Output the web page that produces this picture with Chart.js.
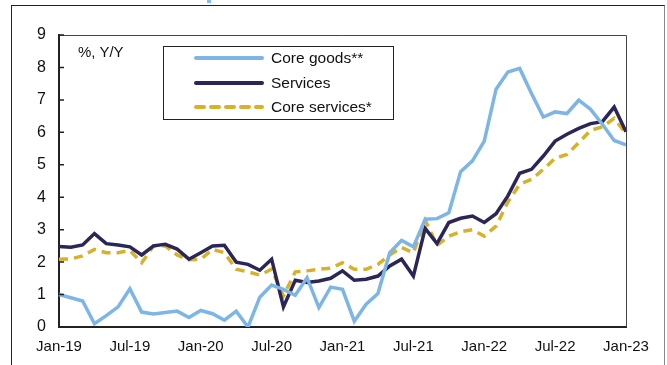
<!DOCTYPE html>
<html>
<head>
<meta charset="utf-8">
<script src="https://cdn.jsdelivr.net/npm/chart.js@4.4.1/dist/chart.umd.min.js"></script>
<style>
  html, body { margin: 0; padding: 0; background: #fff; overflow: hidden; }
  body { width: 667px; height: 365px; position: relative; font-family: "Liberation Sans", Arial, sans-serif; color: #111; }
  #wrap { position: absolute; left: 0; top: 0; width: 667px; height: 365px; }
  #frame { position: absolute; left: 11px; top: 5px; width: 652px; height: 420px; border: 1px solid #222; border-right-color: #888; }
  #titleBit { position: absolute; left: 207px; top: 0; width: 4px; height: 3px; background: #7cc4f0; }
  #unit { position: absolute; left: 78px; top: 43px; font-size: 15px; }
  #legend { position: absolute; left: 163px; top: 46px; width: 229px; height: 72px; border: 1px solid #222; background: #fff; }
  .row { position: absolute; left: 0; height: 20px; display: flex; align-items: center; font-size: 15.5px; }
  .row svg { margin-left: 30px; margin-right: 7px; }
</style>
</head>
<body>
<div id="frame"></div>
<div id="titleBit"></div>
<div id="wrap"><canvas id="chart" width="667" height="365"></canvas></div>
<div id="unit">%, Y/Y</div>
<div id="legend"></div>
<script>
const months = ["Jan", "Feb", "Mar", "Apr", "May", "Jun", "Jul", "Aug", "Sep", "Oct", "Nov", "Dec"];
const labels = [];
for (let year = 19; year <= 23; year++) {
  months.forEach((m) => labels.push(`${m}-${year}`));
}
labels.length = 49; // Jan-19 .. Jan-23

const coreGoods = [
  1.0, 0.9, 0.8, 0.1, 0.35, 0.62, 1.18, 0.46, 0.4, 0.45, 0.49, 0.29,
  0.51, 0.41, 0.21, 0.49, 0.0, 0.92, 1.29, 1.16, 0.98, 1.52, 0.6, 1.23,
  1.16, 0.18, 0.7, 1.03, 2.29, 2.67, 2.47, 3.32, 3.34, 3.52, 4.79, 5.12,
  5.73, 7.33, 7.86, 7.97, 7.2, 6.47, 6.63, 6.58, 6.99, 6.71, 6.25, 5.75,
  5.61,
];
const services = [
  2.48, 2.46, 2.53, 2.88, 2.57, 2.53, 2.47, 2.22, 2.5, 2.55, 2.4, 2.09,
  2.29, 2.5, 2.52, 2.0, 1.93, 1.75, 2.09, 0.62, 1.44, 1.37, 1.42, 1.5,
  1.73, 1.44, 1.47, 1.57, 1.88, 2.09, 1.57, 3.04, 2.57, 3.22, 3.35, 3.42,
  3.22, 3.49, 4.04, 4.74, 4.86, 5.27, 5.73, 5.94, 6.12, 6.27, 6.33, 6.78,
  6.02,
];
const coreServices = [
  2.09, 2.1, 2.19, 2.39, 2.29, 2.29, 2.36, 1.98, 2.5, 2.5, 2.22, 2.07,
  2.09, 2.39, 2.29, 1.78, 1.7, 1.6, 1.78, 0.96, 1.7, 1.73, 1.78, 1.81,
  1.98, 1.78, 1.78, 1.93, 2.22, 2.45, 2.29, 3.29, 2.52, 2.8, 2.94, 3.0,
  2.8, 3.11, 3.85, 4.4, 4.55, 4.86, 5.2, 5.32, 5.68, 6.06, 6.17, 6.43,
  5.96,
];

const series = [
  { label: "Core goods**", data: coreGoods, color: "#7db5e6", dash: [] },
  { label: "Services", data: services, color: "#2b2658", dash: [] },
  { label: "Core services*", data: coreServices, color: "#d8b12b", dash: [9, 6] },
];

const legendBox = document.getElementById("legend");
legendBox.innerHTML = series
  .map(
    (s, i) => `
      <div class="row" style="top:${1 + i * 24.5}px">
        <svg width="70" height="6"><line x1="2" y1="3" x2="68" y2="3" stroke="${s.color}" stroke-width="4" stroke-linecap="round" stroke-dasharray="${s.dash.length ? "8 7" : ""}"/></svg>
        <span>${s.label}</span>
      </div>
    `,
  )
  .join("");

const frameLines = {
  id: "frameLines",
  afterDatasetsDraw(chart) {
    const { ctx, chartArea } = chart;
    const yScale = chart.scales.y;
    ctx.save();
    ctx.strokeStyle = "#444";
    ctx.lineWidth = 1;
    ctx.beginPath();
    ctx.moveTo(chartArea.left, chartArea.top + 0.5);
    ctx.lineTo(chartArea.right + 0.5, chartArea.top + 0.5);
    ctx.lineTo(chartArea.right + 0.5, chartArea.bottom);
    ctx.stroke();
    ctx.strokeStyle = "#222";
    ctx.lineWidth = 1.5;
    ctx.beginPath();
    for (let v = 1; v <= 9; v++) {
      const y = yScale.getPixelForValue(v);
      ctx.moveTo(chartArea.left, y);
      ctx.lineTo(chartArea.left + 5, y);
    }
    ctx.stroke();
    ctx.restore();
  },
};

new Chart(document.getElementById("chart"), {
  type: "line",
  data: {
    labels,
    datasets: series.map((s) => ({
      label: s.label,
      data: s.data,
      borderColor: s.color,
      borderWidth: 3.5,
      borderDash: s.dash,
      pointRadius: 0,
      tension: 0,
      fill: false,
    })),
  },
  options: {
    responsive: false,
    animation: false,
    layout: { padding: { left: 0, right: 41, top: 35, bottom: 0 } },
    plugins: { legend: { display: false }, tooltip: { enabled: false } },
    scales: {
      x: {
        offset: false,
        grid: { display: false, drawTicks: false },
        border: { display: true, color: "#222", width: 2 },
        ticks: {
          autoSkip: false,
          maxRotation: 0,
          padding: 11,
          color: "#111",
          font: { family: "Liberation Sans", size: 15 },
          callback: (value, index) => (index % 6 === 0 ? labels[index] : ""),
        },
        afterFit: (scale) => { scale.height = 38; },
      },
      y: {
        min: 0,
        max: 9,
        grid: { display: false, drawTicks: false },
        border: { display: true, color: "#222", width: 2 },
        ticks: {
          stepSize: 1,
          padding: 13,
          color: "#111",
          font: { family: "Liberation Sans", size: 16 },
        },
        afterFit: (scale) => { scale.width = 59; },
      },
    },
  },
  plugins: [frameLines],
});
</script>
</body>
</html>
